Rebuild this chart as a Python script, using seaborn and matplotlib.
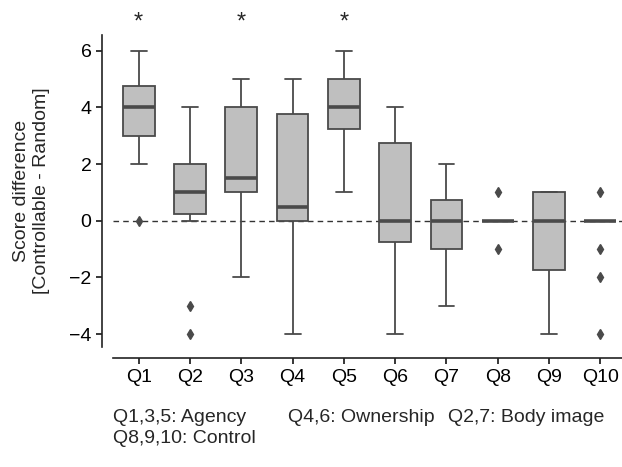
import seaborn as sns
import pandas as pd
import matplotlib.pyplot as plt

# Score differences (Controllable - Random) per questionnaire item
q1 = [0, 2, 3, 3, 3, 4, 4, 4, 4, 4, 5, 5, 6, 6]
q2 = [-4, -3, 0, 0, 1, 1, 1, 1, 2, 2, 2, 3, 4, 4]
q3 = [-2, 0, 1, 1, 1, 1, 1, 2, 3, 4, 4, 4, 5, 5]
q4 = [-4, -2, -1, 0, 0, 0, 0, 1, 2, 3, 4, 5, 5, 5]
q5 = [1, 2, 3, 3, 4, 4, 4, 4, 5, 5, 5, 6, 6, 6]
q6 = [-4, -3, -2, -1, 0, 0, 0, 0, 1, 2, 3, 3, 4, 4]
q7 = [-3, -2, -1, -1, -1, 0, 0, 0, 0, 0, 1, 1, 2, 2]
q8 = [-1, 0, 0, 0, 0, 0, 0, 0, 0, 0, 0, 0, 0, 1]
q9 = [-4, -3, -2, -2, -1, -1, 0, 0, 1, 1, 1, 1, 1, 1]
q10 = [-4, -2, -1, 0, 0, 0, 0, 0, 0, 0, 0, 0, 0, 1]

questions = ["Q1", "Q2", "Q3", "Q4", "Q5", "Q6", "Q7", "Q8", "Q9", "Q10"]
significant = ["Q1", "Q3", "Q5"]

all_scores = [q1, q2, q3, q4, q5, q6, q7, q8, q9, q10]
df = pd.DataFrame({
    "question": [q for q, vals in zip(questions, all_scores) for _ in vals],
    "score": [v for vals in all_scores for v in vals],
})

sns.set_theme(style="ticks")
plt.rcParams["font.family"] = ["Liberation Sans", "DejaVu Sans"]
plt.rcParams["font.size"] = 14

fig = plt.figure(figsize=(6.22, 4.67), dpi=100)
ax = fig.add_axes([0.1817, 0.257, 0.8248, 0.668])

edge = "#4a4a4a"
ax.axhline(0, color="#333333", linewidth=1.0, linestyle=(0, (4, 3)), zorder=0)
sns.boxplot(
    data=df, x="question", y="score", order=questions, ax=ax,
    color="#bfbfbf", saturation=1, linecolor=edge, linewidth=1.3, width=0.62,
    flierprops=dict(marker="d", markerfacecolor=edge, markeredgecolor=edge, markersize=5),
    medianprops=dict(linewidth=2.6),
)

ax.set_ylim(-4.45, 6.55)
ax.set_xlim(-0.5, 9.5)
ax.set_yticks([-4, -2, 0, 2, 4, 6])
ax.set_xlabel("")
ax.set_ylabel("Score difference\n[Controllable - Random]", fontsize=14, labelpad=14)
ax.tick_params(labelsize=14, colors="black", length=4, width=1.1)

for q in significant:
    ax.text(questions.index(q), 6.98, "*", ha="center", va="center",
            fontsize=17, clip_on=False)

sns.despine(ax=ax, offset=8)
for s in ["left", "bottom"]:
    ax.spines[s].set_linewidth(1.2)
    ax.spines[s].set_color("#222222")

fig.text(0.182, 0.107, "Q1,3,5: Agency", fontsize=14, va="center")
fig.text(0.463, 0.107, "Q4,6: Ownership", fontsize=14, va="center")
fig.text(0.720, 0.107, "Q2,7: Body image", fontsize=14, va="center")
fig.text(0.182, 0.060, "Q8,9,10: Control", fontsize=14, va="center")

fig.savefig("out.png", dpi=100)
